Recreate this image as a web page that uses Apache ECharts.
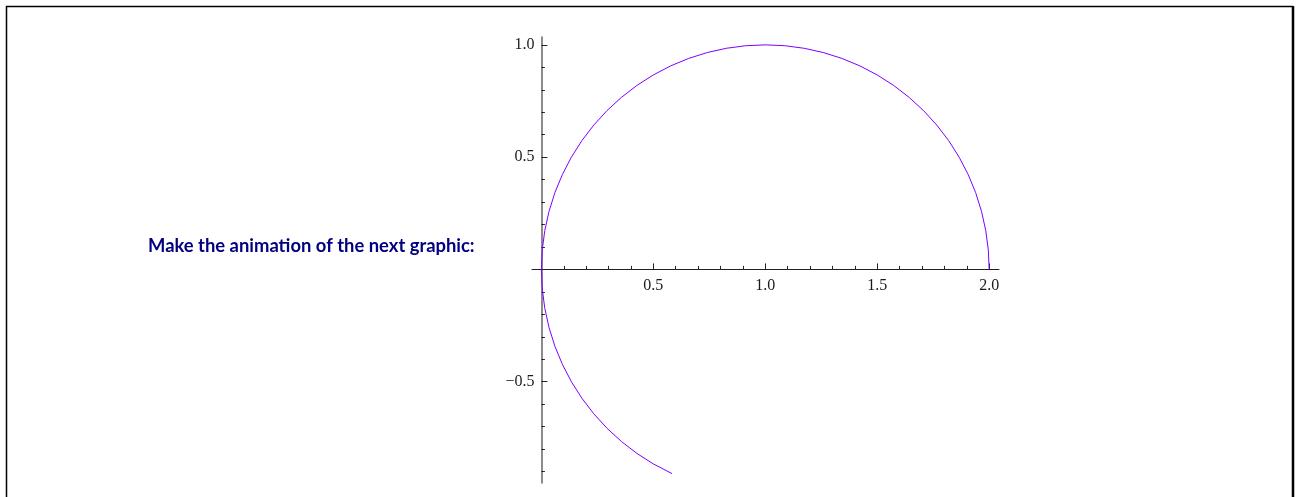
<!DOCTYPE html>
<html>
<head>
<meta charset="utf-8">
<title>Circle arc plot</title>
<script src="https://cdn.jsdelivr.net/npm/echarts@6/dist/echarts.min.js"></script>
<style>
  html, body { margin: 0; padding: 0; background: #ffffff; }
  #chart { width: 1296px; height: 497px; }
</style>
</head>
<body>
<div id="chart"></div>
<script>
// Points along the traced arc, from (2, 0) counter-clockwise through the origin
const curveX = [
  2.0000, 1.9962, 1.9848, 1.9659, 1.9397, 1.9063, 1.8660, 1.8192, 1.7660, 1.7071,
  1.6428, 1.5736, 1.5000, 1.4226, 1.3420, 1.2588, 1.1736, 1.0872, 1.0000, 0.9128,
  0.8264, 0.7412, 0.6580, 0.5774, 0.5000, 0.4264, 0.3572, 0.2929, 0.2340, 0.1808,
  0.1340, 0.0937, 0.0603, 0.0341, 0.0152, 0.0038, 0.0000, 0.0038, 0.0152, 0.0341,
  0.0603, 0.0937, 0.1340, 0.1808, 0.2340, 0.2929, 0.3572, 0.4264, 0.5000, 0.5837
];
const curveY = [
  0.0000, 0.0872, 0.1736, 0.2588, 0.3420, 0.4226, 0.5000, 0.5736, 0.6428, 0.7071,
  0.7660, 0.8192, 0.8660, 0.9063, 0.9397, 0.9659, 0.9848, 0.9962, 1.0000, 0.9962,
  0.9848, 0.9659, 0.9397, 0.9063, 0.8660, 0.8192, 0.7660, 0.7071, 0.6428, 0.5736,
  0.5000, 0.4226, 0.3420, 0.2588, 0.1736, 0.0872, 0.0000, -0.0872, -0.1736, -0.2588,
  -0.3420, -0.4226, -0.5000, -0.5736, -0.6428, -0.7071, -0.7660, -0.8192, -0.8660, -0.9092
];

// Labelled tick positions on each axis
const xTickValues = [0.5, 1.0, 1.5, 2.0];
const yTickValues = [-0.5, 0.5, 1.0];

const headline = 'Make the animation of the next graphic:';

const points = curveX.map((x, i) => [x, curveY[i]]);
const fmt = v => v.toFixed(1).replace('-', '\u2212');

const labelStyle = {
  fontFamily: 'Liberation Serif',
  fontSize: 16,
  color: '#1a1a1a'
};

const chart = echarts.init(document.getElementById('chart'), null, { renderer: 'canvas' });

chart.setOption({
  animation: false,
  backgroundColor: '#ffffff',
  title: {
    text: headline,
    left: 148,
    top: 237,
    padding: 0,
    textStyle: {
      fontFamily: 'Lato',
      fontWeight: 'bold',
      fontSize: 18.4,
      color: '#000080'
    }
  },
  graphic: [{
    type: 'polyline',
    shape: { points: [[6.5, 497], [6.5, 6.5], [1293, 6.5]] },
    style: { stroke: '#000000', lineWidth: 1.5, fill: null },
    silent: true
  }, {
    type: 'line',
    shape: { x1: 1293, y1: 6, x2: 1293, y2: 497 },
    style: { stroke: '#000000', lineWidth: 2.5 },
    silent: true
  }],
  grid: {
    left: 532,
    right: 297,
    top: 37,
    bottom: 14,
    containLabel: false,
    outerBoundsMode: 'none'
  },
  xAxis: {
    type: 'value',
    position: 'bottom',
    min: -0.042,
    max: 2.044,
    splitNumber: 4,
    axisLine: { show: true, onZero: false, lineStyle: { color: '#222222', width: 1 } },
    axisTick: {
      show: true, inside: true, length: 6,
      customValues: xTickValues,
      lineStyle: { color: '#222222', width: 1 }
    },
    minorTick: {
      show: true, splitNumber: 5, length: 3.5,
      lineStyle: { color: '#222222', width: 1 }
    },
    axisLabel: Object.assign({
      customValues: xTickValues,
      margin: 8,
      formatter: fmt
    }, labelStyle),
    splitLine: { show: false },
    minorSplitLine: { show: false }
  },
  yAxis: {
    type: 'value',
    position: 'left',
    min: -0.951,
    max: 1.035,
    splitNumber: 4,
    axisLine: { show: true, onZero: false, lineStyle: { color: '#666666', width: 1.5 } },
    axisTick: {
      show: true, inside: true, length: 6,
      customValues: yTickValues,
      lineStyle: { color: '#222222', width: 1 }
    },
    minorTick: {
      show: true, splitNumber: 5, length: 3.5,
      lineStyle: { color: '#222222', width: 1 }
    },
    axisLabel: Object.assign({
      customValues: yTickValues,
      margin: 7,
      formatter: fmt
    }, labelStyle),
    splitLine: { show: false },
    minorSplitLine: { show: false }
  },
  series: [{
    type: 'line',
    data: points,
    showSymbol: false,
    smooth: false,
    clip: false,
    lineStyle: { color: '#8000ff', width: 1 }
  }]
});

// Move both axes (line, ticks and labels) so they cross at the origin
const origin = chart.convertToPixel({ gridIndex: 0 }, [0, 0]);
const gridRect = chart.getModel().getComponent('grid', 0).coordinateSystem.getRect();
chart.setOption({
  xAxis: { offset: -(gridRect.y + gridRect.height - origin[1]) },
  yAxis: { offset: -(origin[0] - gridRect.x) }
});
</script>
</body>
</html>
